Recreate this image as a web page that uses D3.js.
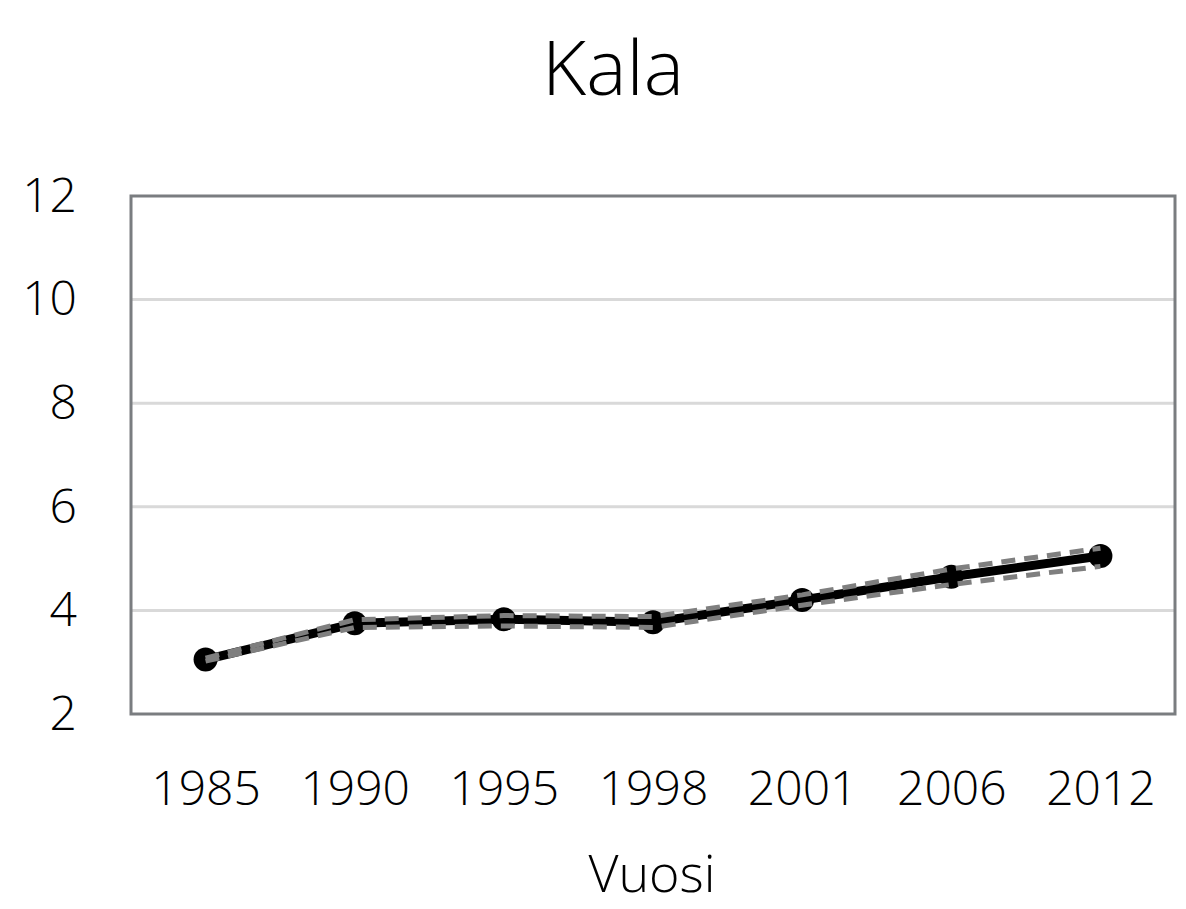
<!DOCTYPE html>
<html><head><meta charset="utf-8">
<script src="https://cdn.jsdelivr.net/npm/d3@7/dist/d3.min.js"></script>
<style>
html,body{margin:0;padding:0;background:#fff;}
svg{display:block;font-family:"Open Sans","Noto Sans",sans-serif;font-weight:300;}
</style></head>
<body><svg id="chart" width="1186" height="909"></svg>
<script>
const years = ["1985","1990","1995","1998","2001","2006","2012"];
const values = [3.05, 3.75, 3.83, 3.77, 4.2, 4.65, 5.05];
const upper = [3.08, 3.82, 3.9, 3.88, 4.3, 4.8, 5.2];
const lower = [3.02, 3.67, 3.7, 3.67, 4.1, 4.5, 4.85];
const yTicks = [2, 4, 6, 8, 10, 12];
const title = "Kala";
const xTitle = "Vuosi";

const svg = d3.select("#chart");
const m = {left:131, right:1175, top:196, bottom:714};
const x = d3.scalePoint().domain(years).range([m.left, m.right]).padding(0.5);
const y = d3.scaleLinear().domain([2, 12]).range([m.bottom, m.top]);
const FONT = '"Open Sans","Noto Sans",sans-serif';

// gridlines
svg.append("g").selectAll("line").data(yTicks.filter(d => d > 2 && d < 12)).join("line")
  .attr("x1", m.left).attr("x2", m.right)
  .attr("y1", d => y(d)).attr("y2", d => y(d))
  .attr("stroke", "#d9d9d9").attr("stroke-width", 3);

// frame
svg.append("rect").attr("x", m.left).attr("y", m.top)
  .attr("width", m.right - m.left).attr("height", m.bottom - m.top)
  .attr("fill", "none").attr("stroke", "#7a7d80").attr("stroke-width", 3);

// y axis
const yAxis = d3.axisLeft(y).tickValues(yTicks).tickSize(0).tickPadding(54);
const gy = svg.append("g").attr("transform", `translate(${m.left},0)`).call(yAxis);
gy.select(".domain").remove();
gy.selectAll("text").attr("font-size", 48).attr("fill", "#000")
  .attr("font-family", FONT).attr("font-weight", 300);

// x axis
const xAxis = d3.axisBottom(x).tickSize(0).tickPadding(57);
const gx = svg.append("g").attr("transform", `translate(0,${m.bottom})`).call(xAxis);
gx.select(".domain").remove();
gx.selectAll("text").attr("font-size", 48).attr("fill", "#000")
  .attr("font-family", FONT).attr("font-weight", 300);

// main line
const line = d3.line().x((d, i) => x(years[i])).y(d => y(d));
svg.append("path").datum(values).attr("d", line)
  .attr("fill", "none").attr("stroke", "#000").attr("stroke-width", 9).attr("stroke-linejoin", "round");
svg.append("g").selectAll("circle").data(values).join("circle")
  .attr("cx", (d, i) => x(years[i])).attr("cy", d => y(d)).attr("r", 12).attr("fill", "#000");

// bounds
[upper, lower].forEach(arr => {
  svg.append("path").datum(arr).attr("d", line)
    .attr("fill", "none").attr("stroke", "#7f7f7f").attr("stroke-width", 5)
    .attr("stroke-dasharray", "14,9").attr("stroke-linecap", "butt");
});

// titles
svg.append("text").attr("x", 613).attr("y", 95).attr("text-anchor", "middle")
  .attr("font-size", 76).attr("fill", "#000").text(title);
svg.append("text").attr("x", 652).attr("y", 892).attr("text-anchor", "middle")
  .attr("font-size", 52).attr("fill", "#000").text(xTitle);
</script></body></html>
